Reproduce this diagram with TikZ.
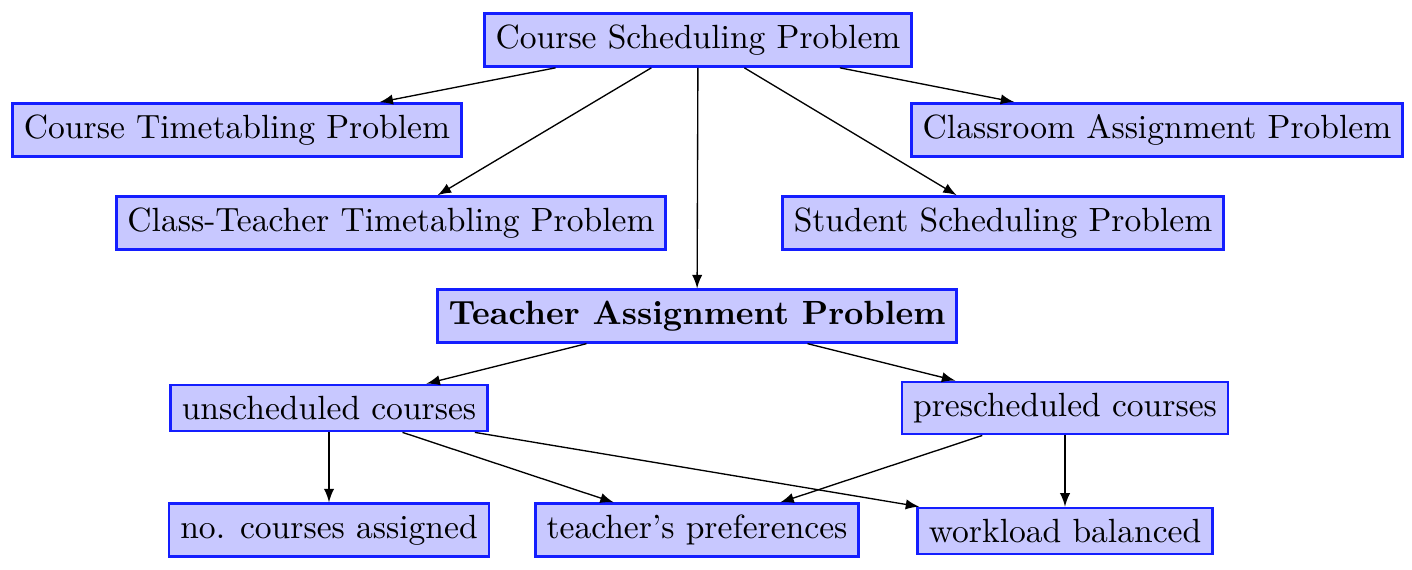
\documentclass[tikz,border=0pt]{standalone}
\usepackage{tikz}
\usetikzlibrary{arrows}
\definecolor{boxfill}{RGB}{200, 200, 255}
\definecolor{boxline}{RGB}{20, 30, 255}

\tikzset{
  probbox/.style={draw=boxline,fill=boxfill,thick,rectangle},
  link/.style={-latex,black}
}

\begin{document}
\begin{tikzpicture}[x=0.01046cm,y=-0.01046cm]
        \useasboundingbox (0,0) rectangle (1412,569);
        % top level
        \node[probbox] (csp) at (698,40) {Course Scheduling Problem};
        
        \node[probbox] (ctp) at (237,130) {Course Timetabling Problem};
        \node[probbox] (cap) at (1157,130) {Classroom Assignment Problem};
        
        \node[probbox] (cttp) at (391,223) {Class-Teacher Timetabling Problem};
        \node[probbox] (ssp) at (1003,223) {Student Scheduling Problem};
        
        \node[probbox] (tap) at (697,316) {\textbf{Teacher Assignment Problem}};
        
        % course kinds
        \node[probbox] (unsch) at (329,408) {unscheduled courses};
        \node[probbox] (presch) at (1065,408) {prescheduled courses};
        
        % objectives
        \node[probbox] (nca) at (329,530) {no. courses assigned};
        \node[probbox] (tpref) at (697,530) {teacher's preferences};
        \node[probbox] (wlb) at (1065,531) {workload balanced};
        
        \draw[link] (csp) -- (ctp);
        \draw[link] (csp) -- (cap);
        \draw[link] (csp) -- (cttp);
        \draw[link] (csp) -- (ssp);
        \draw[link] (csp) -- (tap);
        
        \draw[link] (tap) -- (unsch);
        \draw[link] (tap) -- (presch);
        
        \draw[link] (unsch) -- (nca);
        \draw[link] (unsch) -- (tpref);
        \draw[link] (unsch) -- (wlb);
        \draw[link] (presch) -- (tpref);
        \draw[link] (presch) -- (wlb);
    \end{tikzpicture}
\end{document}
